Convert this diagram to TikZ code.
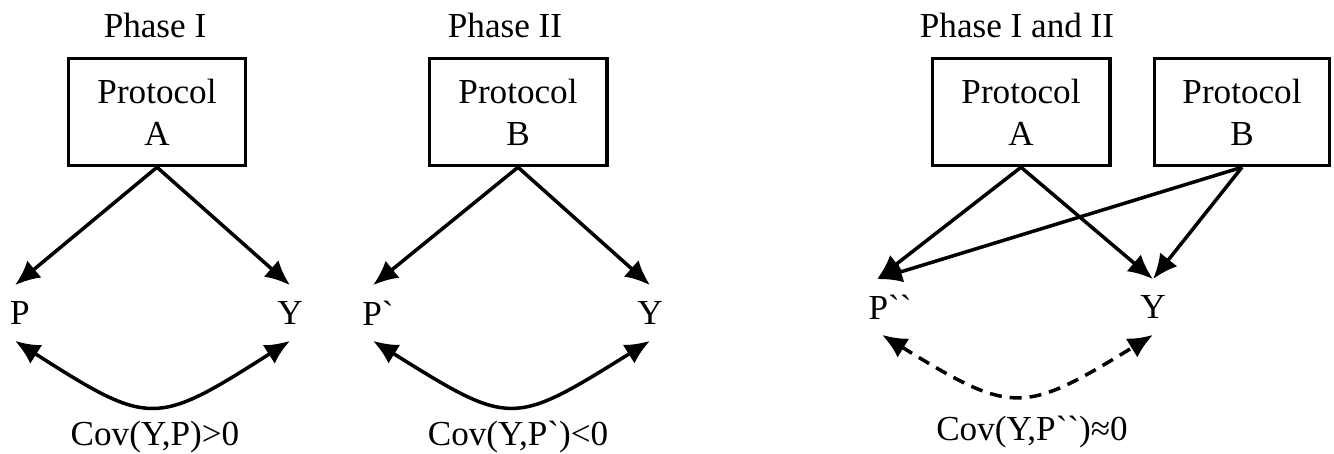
\documentclass[tikz,border=0pt]{standalone}
\usepackage{fontspec}
\setmainfont{Liberation Serif}[Ligatures=TeXOff]
\usetikzlibrary{arrows.meta,positioning}

\begin{document}
\begin{tikzpicture}[x=0.02cm,y=-0.02cm,align=center,font=\fontsize{20}{24}\selectfont]
\tikzstyle{protocol}=[draw=black,line width=2pt,minimum width=3.55cm,minimum height=2.14cm,inner sep=0pt]
\tikzstyle{outcome}=[minimum height=1.1cm,inner sep=0pt]
\tikzstyle{causes}=[-{Latex[length=0.5cm,width=0.44cm]},line width=2pt]
\tikzstyle{correlated}=[{Latex[length=0.5cm,width=0.44cm]}-{Latex[length=0.5cm,width=0.44cm]},line width=2pt]

\useasboundingbox (0,0) rectangle (1334,453);

% Phase I
\node (t1) at (155,25) {Phase I};
\node[protocol] (a1) at (157,112) {Protocol\\A};
\node[outcome] (p1) at (20,313) {P};
\node[outcome] (y1) at (290,313) {Y};
\node (c1) at (155,437) {Cov(Y,P)>0};

\path
  	(a1.south) edge [causes] ([xshift=-0.1cm]p1.north)
  	(a1.south) edge [causes] (y1.north);
\draw [correlated] ([xshift=-0.1cm]p1.south) .. controls +(135,86) and +(-135,86) .. (y1.south);

% Phase II
\node (t2) at (505,25) {Phase II};
\node[protocol] (b2) at (518,112) {Protocol\\B};
\node[outcome] (p2) at (378,313) {P`};
\node[outcome] (y2) at (650,313) {Y};
\node (c2) at (518,437) {Cov(Y,P`)<0};

\path
  	(b2.south) edge [causes] ([xshift=-0.1cm]p2.north)
  	(b2.south) edge [causes] (y2.north);
\draw [correlated] ([xshift=-0.1cm]p2.south) .. controls +(138,86) and +(-138,86) .. (y2.south);

% Phase I and II
\node (t3) at (1017,25) {Phase I and II};
\node[protocol] (a3) at (1021,112) {Protocol\\A};
\node[protocol, minimum width=3.5cm] (b3) at (1242,112) {Protocol\\B};
\node[outcome] (p3) at (890,307) {P``};
\node[outcome] (y3) at (1153,307) {Y};
\node (c3) at (1032,432) {Cov(Y,P``)≈0};

\path
  	(a3.south) edge [causes] ([xshift=-0.26cm]p3.north)
  	(a3.south) edge [causes] (y3.north)
  	(b3.south) edge [causes] ([xshift=-0.26cm]p3.north)
  	(b3.south) edge [causes] (y3.north);
\draw [correlated, dash pattern=on 0.24cm off 0.16cm] ([xshift=-0.16cm]p3.south) .. controls +(130,80) and +(-130,80) .. (y3.south);
\end{tikzpicture}
\end{document}
